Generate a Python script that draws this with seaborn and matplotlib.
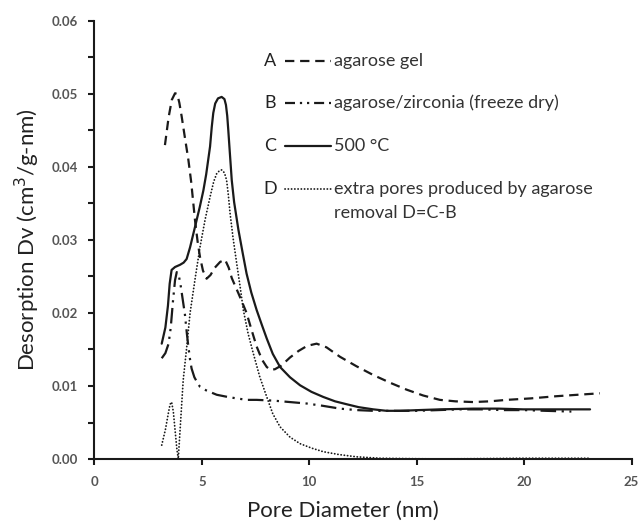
import matplotlib
matplotlib.use("Agg")
import matplotlib.pyplot as plt
from matplotlib.lines import Line2D
from matplotlib.ticker import MultipleLocator, FormatStrFormatter
import pandas as pd
import seaborn as sns

# Pore size distributions (BJH desorption), pore diameter in nm
a_x = [3.28, 3.45, 3.6, 3.75, 3.85, 3.95, 4.06, 4.2, 4.37, 4.5, 4.68, 4.8, 4.91, 5.05,
       5.22, 5.4, 5.6, 5.85, 6.08, 6.25, 6.39, 6.55, 6.7, 6.9, 7.08, 7.3, 7.55, 7.8,
       8.02, 8.2, 8.4, 8.7, 9.1, 9.5, 9.9, 10.34, 10.8, 11.43, 12.2, 12.98, 13.8,
       14.53, 15.3, 16.08, 16.8, 17.63, 18.4, 19.19, 20.3, 21.5, 22.5, 23.53]
a_y = [0.0430, 0.0468, 0.0492, 0.0501, 0.0500, 0.0488, 0.0469, 0.0442, 0.0410, 0.0380,
       0.0327, 0.0298, 0.0277, 0.0258, 0.0247, 0.0252, 0.0262, 0.0270, 0.0273, 0.0262,
       0.0248, 0.0237, 0.0227, 0.0213, 0.0200, 0.0178, 0.0154, 0.0136, 0.0126, 0.0122,
       0.0123, 0.0128, 0.0139, 0.0148, 0.0155, 0.0158, 0.0153, 0.0140, 0.0127, 0.0115,
       0.0104, 0.0095, 0.0087, 0.0081, 0.0079, 0.0078, 0.0079, 0.0081, 0.0083, 0.0086,
       0.0088, 0.0090]

b_x = [3.13, 3.3, 3.45, 3.55, 3.65, 3.75, 3.83, 3.92, 4.0, 4.1, 4.21, 4.3, 4.37, 4.45,
       4.52, 4.65, 4.8, 4.91, 5.2, 5.69, 6.2, 6.62, 7.1, 7.55, 8.32, 9.1, 9.88, 10.6,
       11.43, 12.2, 12.98, 14.0, 15.0, 16.0, 17.0, 18.0, 19.0, 20.0, 21.0, 22.2]
b_y = [0.0138, 0.0145, 0.0158, 0.0180, 0.0215, 0.0245, 0.0256, 0.0252, 0.0240, 0.0220,
       0.0198, 0.0172, 0.0154, 0.0136, 0.0124, 0.0112, 0.0104, 0.0099, 0.0094, 0.0088,
       0.0085, 0.0083, 0.0081, 0.0081, 0.0080, 0.0078, 0.0076, 0.0073, 0.0069, 0.0067,
       0.0066, 0.0066, 0.0066, 0.0067, 0.0068, 0.0068, 0.0067, 0.0067, 0.0066, 0.0065]

c_x = [3.13, 3.3, 3.42, 3.5, 3.59, 3.75, 3.98, 4.15, 4.29, 4.45, 4.68, 4.9, 5.07, 5.2,
       5.38, 5.46, 5.53, 5.62, 5.75, 5.92, 6.05, 6.12, 6.18, 6.23, 6.3, 6.39, 6.5, 6.7,
       6.9, 7.08, 7.3, 7.55, 7.8, 8.02, 8.3, 8.64, 9.1, 9.57, 10.1, 10.65, 11.2, 11.74,
       12.3, 12.98, 13.6, 14.22, 15.1, 16.08, 17.63, 18.8, 19.96, 21.5, 23.07]
c_y = [0.0158, 0.0180, 0.0210, 0.0240, 0.0259, 0.0263, 0.0266, 0.0269, 0.0274, 0.0290,
       0.0318, 0.0345, 0.0368, 0.0390, 0.0428, 0.0455, 0.0474, 0.0487, 0.0494, 0.0496,
       0.0493, 0.0485, 0.0470, 0.0450, 0.0420, 0.0382, 0.0352, 0.0314, 0.0282, 0.0254,
       0.0228, 0.0204, 0.0183, 0.0165, 0.0144, 0.0126, 0.0112, 0.0101, 0.0092, 0.0085,
       0.0079, 0.0075, 0.0071, 0.0068, 0.0066, 0.0066, 0.0067, 0.0068, 0.0069, 0.0069,
       0.0068, 0.0068, 0.0068]

d_x = [3.13, 3.3, 3.44, 3.52, 3.59, 3.67, 3.75, 3.83, 3.9, 4.13, 4.3, 4.45, 4.7, 4.91,
       5.15, 5.38, 5.55, 5.69, 5.82, 5.92, 6.05, 6.15, 6.23, 6.31, 6.45, 6.62, 6.78,
       6.93, 7.15, 7.39, 7.7, 8.02, 8.3, 8.64, 9.1, 9.57, 10.1, 10.65, 11.4, 12.2,
       13.3, 16.0, 19.9, 23.0]
d_y = [0.0019, 0.0040, 0.0063, 0.0075, 0.0078, 0.0065, 0.0040, 0.0015, 0.0000, 0.0108,
       0.0155, 0.0200, 0.0250, 0.0290, 0.0328, 0.0359, 0.0380, 0.0391, 0.0395, 0.0396,
       0.0392, 0.0382, 0.0362, 0.0337, 0.0303, 0.0268, 0.0236, 0.0204, 0.0172, 0.0145,
       0.0112, 0.0085, 0.0062, 0.0044, 0.0030, 0.0021, 0.0015, 0.0010, 0.0006, 0.0003,
       0.0001, 0.0000, 0.0001, 0.0001]

letters = ["A", "B", "C", "D"]
labels = ["agarose gel", "agarose/zirconia (freeze dry)", "500 \u00b0C",
          "extra pores produced by agarose\nremoval D=C-B"]

x_label = "Pore Diameter (nm)"
y_label = "Desorption Dv (cm$^3$/g-nm)"

sns.set_theme(style="ticks")
plt.rcParams["font.family"] = ["Lato", "DejaVu Sans"]

fig = plt.figure(figsize=(6.41, 5.21), dpi=100)
ax = fig.add_axes([0.1474, 0.119, 0.8378, 0.8407])

ink = "#1a1a1a"
lw = 1.6
styles = {
    "A": dict(dashes=(4.2, 2.6), lw=lw),
    "B": dict(dashes=(7, 2.5, 1, 2.5, 1, 2.5), lw=lw),
    "C": dict(dashes=None, lw=lw),
    "D": dict(dashes=(0.1, 1.7), lw=1.3),
}

series = {"A": (a_x, a_y), "B": (b_x, b_y), "C": (c_x, c_y), "D": (d_x, d_y)}
for key, (xs, ys) in series.items():
    df = pd.DataFrame({"diameter": xs, "dv": ys})
    sns.lineplot(data=df, x="diameter", y="dv", ax=ax, color=ink,
                 lw=styles[key]["lw"], sort=False, estimator=None)
    line = ax.lines[-1]
    line.set_solid_joinstyle("round")
    line.set_dash_joinstyle("round")
    if styles[key]["dashes"] is not None:
        line.set_dashes(styles[key]["dashes"])
    if key == "D":
        line.set_dash_capstyle("round")

ax.set_xlim(0, 25)
ax.set_ylim(0, 0.06)
ax.xaxis.set_major_locator(MultipleLocator(5))
ax.yaxis.set_major_locator(MultipleLocator(0.01))
ax.yaxis.set_minor_locator(MultipleLocator(0.005))
ax.yaxis.set_major_formatter(FormatStrFormatter("%.2f"))

sns.despine(ax=ax)
for side in ("left", "bottom"):
    ax.spines[side].set_linewidth(1.5)
    ax.spines[side].set_color(ink)

tick_col = "#555555"
ax.tick_params(axis="both", which="major", direction="out", length=4, width=1.5,
               color=ink, labelsize=9.5, labelcolor=tick_col)
ax.tick_params(axis="y", which="minor", direction="out", length=4, width=1.5, color=ink)
ax.tick_params(axis="y", pad=8)
ax.tick_params(axis="x", pad=8)
for t in ax.get_xticklabels() + ax.get_yticklabels():
    t.set_fontweight("bold")

ax.set_xlabel(x_label, fontsize=16, color="#222222")
ax.set_ylabel(y_label, fontsize=16, color="#222222")
ax.xaxis.set_label_coords(0.463, -0.095)
ax.yaxis.set_label_coords(-0.098, 0.5)

# Legend drawn as lettered rows with line samples
W, H = 641.0, 521.0
rows_y = [61, 103, 146, 189]
for letter, lab, key, py in zip(letters, labels, letters, rows_y):
    fy = 1 - py / H
    fig.text(270 / W, fy, letter, fontsize=13, color="#222222", ha="center", va="center")
    st = styles[key]
    ln = Line2D([285 / W, 331 / W], [fy, fy], transform=fig.transFigure,
                color=ink, lw=st["lw"])
    if st["dashes"] is not None:
        ln.set_dashes(st["dashes"] if key != "B" else (4.5, 2.2, 1, 2.2, 1, 2.2))
    if key == "D":
        ln.set_dash_capstyle("round")
    fig.add_artist(ln)
    fig.text(334 / W, fy, lab.split("\n")[0], fontsize=13, color="#333333",
             ha="left", va="center")
    if "\n" in lab:
        fig.text(334 / W, 1 - 213 / H, lab.split("\n")[1], fontsize=13,
                 color="#333333", ha="left", va="center")

fig.savefig("out.png", dpi=100)
